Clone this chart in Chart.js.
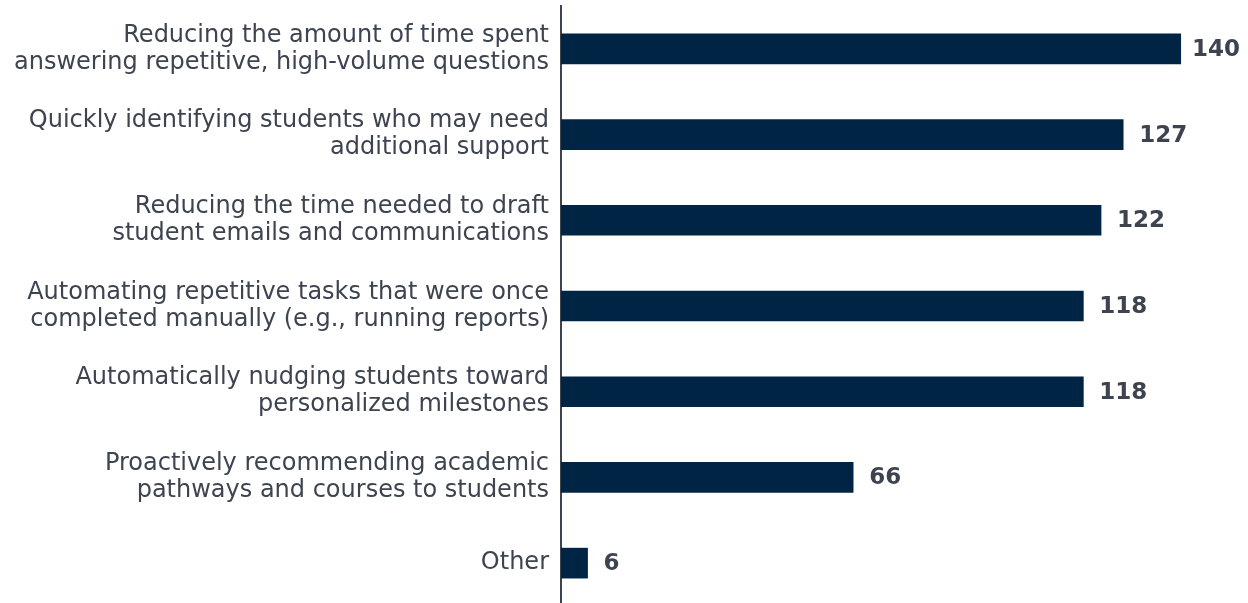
<!DOCTYPE html>
<html>
<head>
<meta charset="utf-8">
<script src="https://cdn.jsdelivr.net/npm/chart.js@4/dist/chart.umd.min.js"></script>
<style>
    html, body { margin: 0; padding: 0; background: #ffffff; overflow: hidden; }
    #wrap { position: relative; width: 1248px; height: 609px; }
</style>
</head>
<body>
<div id="wrap"><canvas id="benefits-chart"></canvas></div>
<script>
var categories = [
    ["Reducing the amount of time spent", "answering repetitive, high-volume questions"],
    ["Quickly identifying students who may need", "additional support"],
    ["Reducing the time needed to draft", "student emails and communications"],
    ["Automating repetitive tasks that were once", "completed manually (e.g., running reports)"],
    ["Automatically nudging students toward", "personalized milestones"],
    ["Proactively recommending academic", "pathways and courses to students"],
    "Other"
];
var responses = [140, 127, 122, 118, 118, 66, 6];

var barColor = "#002444";
var textColor = "#3d4450";

// writes the count just past the end of each bar
var valueLabels = {
    id: "valueLabels",
    afterDatasetsDraw: function (chart) {
        var ctx = chart.ctx;
        var meta = chart.getDatasetMeta(0);
        ctx.save();
        ctx.font = "bold 23px 'DejaVu Sans'";
        ctx.fillStyle = textColor;
        ctx.textBaseline = "middle";
        ctx.textAlign = "left";
        meta.data.forEach(function (bar, index) {
            var text = String(chart.data.datasets[0].data[index]);
            var width = ctx.measureText(text).width;
            var x = Math.min(bar.x + 16, chart.width - 8 - width);
            ctx.fillText(text, x, bar.y + 1);
        });
        ctx.restore();
    }
};

var context = document.getElementById("benefits-chart");
var benefitsChart = new Chart(context, {
    type: "bar",
    data: {
        labels: categories,
        datasets: [{
            data: responses,
            backgroundColor: barColor,
            borderWidth: 0,
            barThickness: 30
        }]
    },
    options: {
        indexAxis: "y",
        responsive: true,
        maintainAspectRatio: false,
        animation: false,
        layout: { padding: { top: 6, right: 23, bottom: 3, left: 0 } },
        plugins: {
            legend: { display: false },
            tooltip: { enabled: false }
        },
        scales: {
            x: {
                display: false,
                min: 0,
                max: 150
            },
            y: {
                grid: { display: false },
                border: { display: true, color: textColor, width: 2 },
                afterFit: function (scale) {
                    // labels sit inside their bands, no extra room above/below
                    scale.width = 561;
                    scale.paddingTop = 0;
                    scale.paddingBottom = 0;
                },
                ticks: {
                    color: textColor,
                    padding: 4,
                    font: { family: "'DejaVu Sans'", size: 24, lineHeight: "27px" }
                }
            }
        }
    },
    plugins: [valueLabels]
});
</script>
</body>
</html>
